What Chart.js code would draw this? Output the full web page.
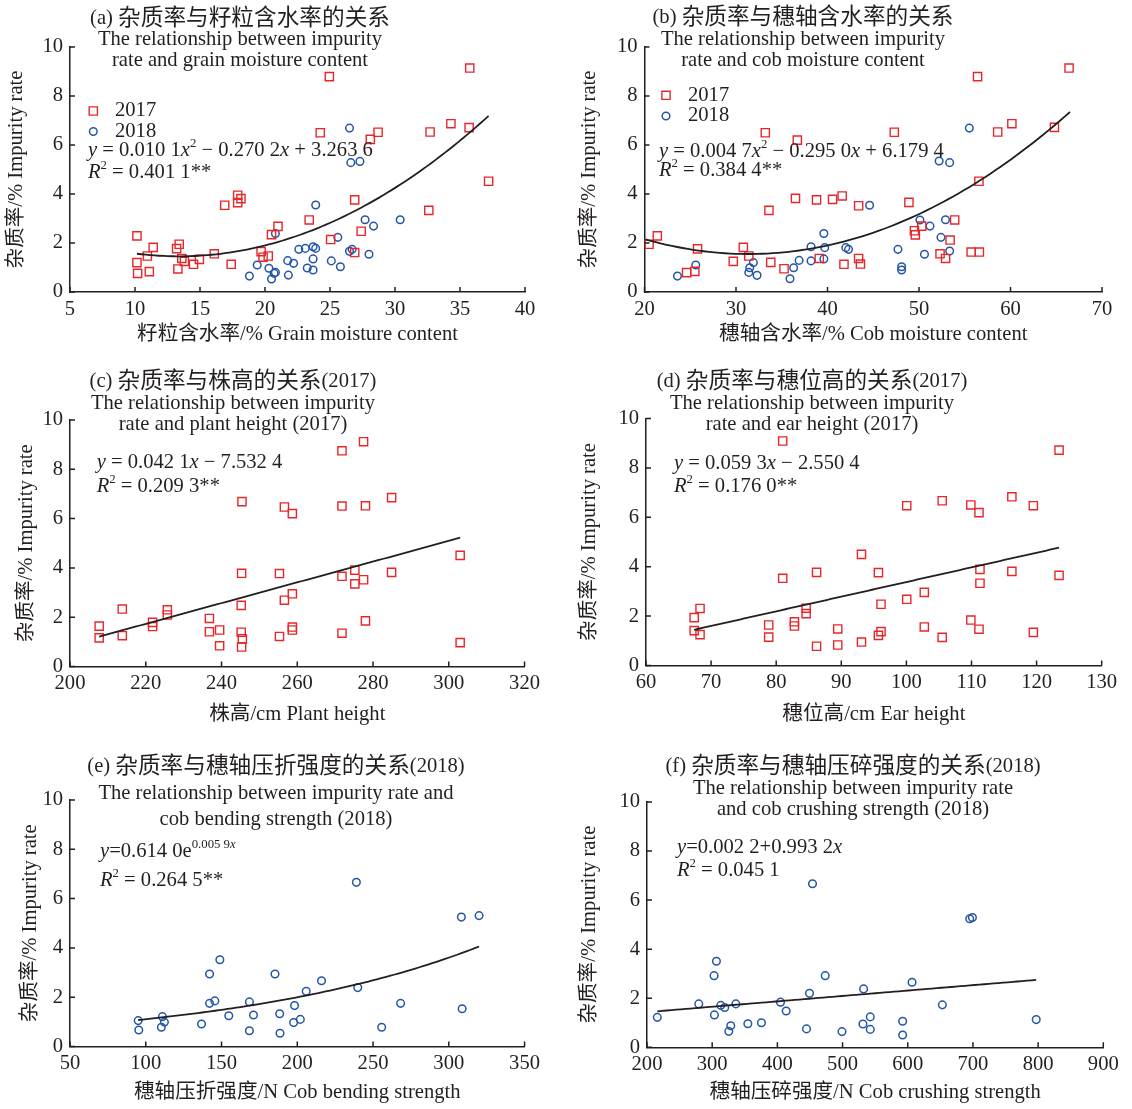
<!DOCTYPE html>
<html><head><meta charset="utf-8">
<script src="https://cdn.jsdelivr.net/npm/chart.js@4.4.1/dist/chart.umd.min.js"></script>
<style>
html,body{margin:0;padding:0;background:#fff;}
#wrap{position:relative;width:1132px;height:1109px;overflow:hidden;background:#fff;}
#wrap canvas{position:absolute;}
</style></head><body><div id="wrap"></div>
<script>
// ---------- data ----------
const grainX2017 = [10.15,10.15,10.2,10.95,11.4,11.1,13.2,13.4,13.6,13.8,13.3,14.5,14.95,16.1,16.9,17.9,18.15,17.9,17.4,19.7,19.85,20.25,20.5,21.0,24.95,35.75,24.25,28.1,28.7,32.7,34.3,35.7,37.2,26.9,23.4,32.6,27.4,25.05,26.9];
const grainY2017 = [2.29,1.2,0.76,1.47,1.82,0.83,1.77,1.95,1.37,1.25,0.94,1.13,1.33,1.56,3.54,3.95,3.81,3.65,1.13,1.65,1.42,1.47,2.34,2.68,8.79,9.14,6.5,6.23,6.52,6.53,6.87,6.71,4.52,3.76,2.94,3.33,2.48,2.14,1.61];
const grainX2018 = [18.8,19.4,20.3,20.5,20.7,20.8,20.8,21.75,21.8,22.2,22.6,26.5,26.6,27.3,23.9,27.7,28.35,30.4,25.6,23.1,23.7,23.9,26.5,26.7,28.0,23.7,23.25,23.7,25.1,25.8];
const grainY2018 = [0.65,1.1,0.97,0.53,0.76,0.8,2.39,1.28,0.69,1.17,1.74,6.69,5.28,5.33,3.55,2.95,2.69,2.95,2.23,1.78,1.85,1.78,1.66,1.74,1.54,1.35,0.98,0.9,1.27,1.03];

const cobX2017 = [20.5,21.4,24.6,25.5,25.8,29.7,30.8,31.4,33.2,33.6,33.8,35.25,36.7,36.5,38.8,39.1,40.55,41.6,41.8,43.4,43.4,43.6,56.4,66.4,47.3,58.6,60.15,64.8,56.55,48.9,53.9,49.5,49.6,50.3,53.4,52.3,52.9,55.7,56.6];
const cobY2017 = [1.95,2.29,0.79,0.84,1.76,1.25,1.82,1.47,6.5,3.33,1.21,0.95,6.2,3.82,3.76,1.37,3.78,3.92,1.13,3.52,1.37,1.14,8.79,9.14,6.52,6.53,6.87,6.72,4.52,3.66,2.94,2.5,2.33,2.69,2.12,1.56,1.37,1.63,1.63];
const cobX2018 = [23.6,25.6,31.4,31.5,31.9,32.3,35.9,36.3,36.9,38.2,38.2,39.6,39.7,39.6,42.0,42.3,44.6,55.5,52.2,53.35,50.1,51.2,52.9,52.4,47.7,50.6,53.35,48.1,48.1];
const cobY2018 = [0.65,1.1,0.8,0.99,1.2,0.68,0.54,0.99,1.29,1.85,1.27,2.39,1.81,1.35,1.81,1.74,3.54,6.69,5.35,5.28,2.94,2.69,2.95,2.23,1.74,1.54,1.67,1.03,0.9];

const heightX = [207.7,207.7,213.8,213.8,221.8,221.8,225.7,225.7,236.8,236.8,239.5,239.5,245.4,245.3,245.2,245.2,245.5,245.3,256.6,258.7,255.3,256.6,258.7,258.7,258.7,255.3,271.8,277.5,271.8,278,284.9,271.8,275.2,275.2,277.5,284.9,278,271.8,303,303];
const heightY = [1.64,1.16,2.33,1.25,1.79,1.62,2.3,2.09,1.95,1.41,1.48,0.84,6.69,3.78,2.48,1.39,1.12,0.79,6.47,6.2,3.77,2.69,2.95,1.6,1.48,1.22,8.75,9.12,6.51,6.52,6.85,3.66,3.91,3.35,3.52,3.82,1.85,1.35,4.51,0.97];

const earX = [67.4,68.3,67.4,68.3,81.0,81.0,78.85,78.85,82.8,82.8,84.6,84.6,86.2,86.2,89.45,89.45,93.1,93.1,95.7,96.1,96.1,95.7,100.05,100.05,102.75,102.75,105.5,105.5,109.9,111.15,111.3,111.3,109.9,111.15,116.2,116.2,119.5,119.5,123.45,123.45];
const earY = [1.94,2.31,1.41,1.25,9.09,3.53,1.64,1.15,1.77,1.6,2.32,2.1,3.77,0.78,1.48,0.83,4.5,0.95,3.76,2.48,1.37,1.22,6.47,2.68,2.96,1.56,6.67,1.14,6.5,6.19,3.89,3.33,1.84,1.47,6.83,3.81,6.47,1.34,8.72,3.65];

const bendX = [95,95.4,111,112.3,110.3,136.8,142.1,142.1,145.6,148.9,154.8,168.4,168.4,171.1,185.3,188.4,188.6,198.2,197.6,202,205.9,216,239,239.9,255.7,268.2,308.3,320,308.8];
const bendY = [1.05,0.67,1.21,0.99,0.78,0.91,2.94,1.75,1.85,3.52,1.25,1.81,0.64,1.28,2.94,1.33,0.54,1.66,0.97,1.1,2.24,2.67,6.66,2.39,0.78,1.75,5.25,5.31,1.53];

const crushX = [215.8,279.4,302.9,306.5,303.4,313.2,319.3,328.5,325.5,336.3,354.7,375.6,404.8,413.5,444.7,449.3,453.9,473.4,499.1,532.3,531.3,542.5,542.5,592.2,592.2,606.6,653.1,695.1,699.2,797.1];
const crushY = [1.22,1.77,2.92,3.51,1.32,1.71,1.62,0.88,0.65,1.77,0.96,1.0,1.84,1.48,0.75,2.2,6.67,2.92,0.64,2.38,0.95,1.24,0.73,1.06,0.5,2.65,1.73,5.24,5.29,1.13];

// regression coefficients printed on the chart, and the x span of each fitted curve
const grainFit = [0.0101, -0.2702, 3.2636];   const grainFitSpan = [10.15, 37.2];
const cobFit   = [0.0047, -0.2950, 6.1794];   const cobFitSpan   = [20.1, 66.5];
const heightFit = [0.0421, -7.5324];          const heightFitSpan = [207.7, 303];
const earFit    = [0.0593, -2.5504];          const earFitSpan    = [67.4, 123.45];
const bendFit   = [0.6140, 0.0059];           const bendFitSpan   = [95, 320];
const crushFit  = [0.0022, 0.9932];           const crushFitSpan  = [215.8, 797.1];

// tick values
const grainTicks  = [5,10,15,20,25,30,35,40];
const cobTicks    = [20,30,40,50,60,70];
const heightTicks = [200,220,240,260,280,300,320];
const earTicks    = [60,70,80,90,100,110,120,130];
const bendTicks   = [50,100,150,200,250,300,350];
const crushTicks  = [200,300,400,500,600,700,800,900];
const rateTicks   = [0,2,4,6,8,10];

// ---------- helpers ----------
const SERIF = "'Liberation Serif','Noto Sans CJK SC',serif";
const INK = '#231f20';
const RED = '#e8262a';
const BLUE = '#2356a8';
const BASE = 20.6;

const pts = (xs, ys) => xs.map((x, i) => ({x, y: ys[i]}));
const quad = c => x => c[0]*x*x + c[1]*x + c[2];
const lin = c => x => c[0]*x + c[1];
const expo = c => x => c[0]*Math.exp(c[1]*x);
function curve(fn, span){ const out=[]; const n=80; for(let k=0;k<=n;k++){ const x=span[0]+(span[1]-span[0])*k/n; out.push({x, y: fn(x)}); } return out; }

function segFont(s){ const size = BASE*(s.c?1.1:1)*(s.sup?0.62:1); return (s.i?'italic ':'') + size.toFixed(2) + 'px ' + SERIF; }
function drawRich(ctx, segs, x, y, align){
  ctx.textBaseline='middle'; ctx.textAlign='left';
  let w=0; for(const s of segs){ ctx.font=segFont(s); w+=ctx.measureText(s.t).width; }
  let cx = align==='center' ? x - w/2 : x;
  for(const s of segs){ ctx.font=segFont(s); const dy = s.sup ? -BASE*0.34 : 0; ctx.fillText(s.t, cx, y+dy); cx += ctx.measureText(s.t).width; }
}
const T = (t, o={}) => Object.assign({t}, o);

const RATE_TITLE = '杂质率/% Impurity rate';

const panels = [
 { canvas:{left:0, top:0, w:545, h:355}, area:{l:70, t:47, r:525, b:292},
   xTicks:grainTicks, xTitle:'籽粒含水率/% Grain moisture content', yTitleX:17, xTitleY:335,
   series:[{x:grainX2017,y:grainY2017,style:'rect',label:'2017'},{x:grainX2018,y:grainY2018,style:'circle',label:'2018'}],
   fit:curve(quad(grainFit), grainFitSpan),
   titles:{cx:240, lines:[{y:19, segs:[T('(a) '),T('杂质率与籽粒含水率的关系',{c:1})]},{y:40, segs:[T('The relationship between impurity')]},{y:61, segs:[T('rate and grain moisture content')]}]},
   eq:{x:88, lines:[{y:151, segs:[T('y',{i:1}),T(' = 0.010 1'),T('x',{i:1}),T('2',{sup:1}),T(' − 0.270 2'),T('x',{i:1}),T(' + 3.263 6')]},{y:173, segs:[T('R',{i:1}),T('2',{sup:1}),T(' = 0.401 1**')]}]},
   legend:{mx:93.3, tx:115, items:[{y:111,style:'rect',label:'2017'},{y:131.5,style:'circle',label:'2018'}]}
 },
 { canvas:{left:560, top:0, w:572, h:355}, area:{l:644.5, t:47, r:1102, b:292},
   xTicks:cobTicks, xTitle:'穗轴含水率/% Cob moisture content', yTitleX:590, xTitleY:335,
   series:[{x:cobX2017,y:cobY2017,style:'rect',label:'2017'},{x:cobX2018,y:cobY2018,style:'circle',label:'2018'}],
   fit:curve(quad(cobFit), cobFitSpan),
   titles:{cx:803, lines:[{y:18, segs:[T('(b) '),T('杂质率与穗轴含水率的关系',{c:1})]},{y:39.5, segs:[T('The relationship between impurity')]},{y:60.5, segs:[T('rate and cob moisture content')]}]},
   eq:{x:659, lines:[{y:152, segs:[T('y',{i:1}),T(' = 0.004 7'),T('x',{i:1}),T('2',{sup:1}),T(' − 0.295 0'),T('x',{i:1}),T(' + 6.179 4')]},{y:171, segs:[T('R',{i:1}),T('2',{sup:1}),T(' = 0.384 4**')]}]},
   legend:{mx:666, tx:688, items:[{y:95.3,style:'rect',label:'2017'},{y:116,style:'circle',label:'2018'}]}
 },
 { canvas:{left:0, top:365, w:545, h:365}, area:{l:70, t:420, r:526, b:666.5},
   xTicks:heightTicks, xTitle:'株高/cm Plant height', yTitleX:27, xTitleY:715,
   series:[{x:heightX,y:heightY,style:'rect',label:'2017'}],
   fit:curve(lin(heightFit), heightFitSpan),
   titles:{cx:233, lines:[{y:382, segs:[T('(c) '),T('杂质率与株高的关系',{c:1}),T('(2017)')]},{y:404, segs:[T('The relationship between impurity')]},{y:425, segs:[T('rate and plant height (2017)')]}]},
   eq:{x:96.7, lines:[{y:463, segs:[T('y',{i:1}),T(' = 0.042 1'),T('x',{i:1}),T(' − 7.532 4')]},{y:487, segs:[T('R',{i:1}),T('2',{sup:1}),T(' = 0.209 3**')]}]}
 },
 { canvas:{left:560, top:365, w:572, h:365}, area:{l:646, t:418.5, r:1101.7, b:665.5},
   xTicks:earTicks, xTitle:'穗位高/cm Ear height', yTitleX:590, xTitleY:715,
   series:[{x:earX,y:earY,style:'rect',label:'2017'}],
   fit:curve(lin(earFit), earFitSpan),
   titles:{cx:812, lines:[{y:382, segs:[T('(d) '),T('杂质率与穗位高的关系',{c:1}),T('(2017)')]},{y:404, segs:[T('The relationship between impurity')]},{y:425, segs:[T('rate and ear height (2017)')]}]},
   eq:{x:674, lines:[{y:464, segs:[T('y',{i:1}),T(' = 0.059 3'),T('x',{i:1}),T(' − 2.550 4')]},{y:487, segs:[T('R',{i:1}),T('2',{sup:1}),T(' = 0.176 0**')]}]}
 },
 { canvas:{left:0, top:745, w:545, h:364}, area:{l:70, t:800, r:526, b:1046.5},
   xTicks:bendTicks, xTitle:'穗轴压折强度/N Cob bending strength', yTitleX:31, xTitleY:1093,
   series:[{x:bendX,y:bendY,style:'circle',label:'2018'}],
   fit:curve(expo(bendFit), bendFitSpan),
   titles:{cx:276, lines:[{y:767, segs:[T('(e) '),T('杂质率与穗轴压折强度的关系',{c:1}),T('(2018)')]},{y:794, segs:[T('The relationship between impurity rate and')]},{y:820, segs:[T('cob bending strength (2018)')]}]},
   eq:{x:100, lines:[{y:852, segs:[T('y',{i:1}),T('=0.614 0e'),T('0.005 9',{sup:1}),T('x',{sup:1,i:1})]},{y:881, segs:[T('R',{i:1}),T('2',{sup:1}),T(' = 0.264 5**')]}]}
 },
 { canvas:{left:560, top:745, w:572, h:364}, area:{l:647, t:802, r:1103.3, b:1047.3},
   xTicks:crushTicks, xTitle:'穗轴压碎强度/N Cob crushing strength', yTitleX:590, xTitleY:1093,
   series:[{x:crushX,y:crushY,style:'circle',label:'2018'}],
   fit:curve(lin(crushFit), crushFitSpan),
   titles:{cx:853, lines:[{y:767, segs:[T('(f) '),T('杂质率与穗轴压碎强度的关系',{c:1}),T('(2018)')]},{y:789, segs:[T('The relationship between impurity rate')]},{y:810, segs:[T('and cob crushing strength (2018)')]}]},
   eq:{x:677, lines:[{y:848, segs:[T('y',{i:1}),T('=0.002 2+0.993 2'),T('x',{i:1})]},{y:871, segs:[T('R',{i:1}),T('2',{sup:1}),T(' = 0.045 1')]}]}
 }
];

const POINT = {
  rect:  {pointStyle:'rect',   radius:5.8, borderWidth:1.4, color:RED},
  circle:{pointStyle:'circle', radius:3.8, borderWidth:1.5, color:BLUE}
};

const wrap = document.getElementById('wrap');
function makeChart(p){
  const cv = document.createElement('canvas');
  const {left:ox, top:oy, w, h} = p.canvas;
  cv.width = w; cv.height = h;
  cv.style.left = ox+'px'; cv.style.top = oy+'px'; cv.style.width = w+'px'; cv.style.height = h+'px';
  wrap.appendChild(cv);
  const lh = BASE*1.2/2;
  const datasets = [{
    label:'fit', data:p.fit, showLine:true, pointRadius:0, borderColor:INK, borderWidth:1.8, fill:false, order:0
  }].concat(p.series.map(s => {
    const st = POINT[s.style];
    return { label:s.label, data:pts(s.x, s.y), showLine:false, pointStyle:st.pointStyle, pointRadius:st.radius,
      pointBorderWidth:st.borderWidth, pointBorderColor:st.color, pointBackgroundColor:'rgba(0,0,0,0)',
      borderColor:st.color, backgroundColor:'rgba(0,0,0,0)', order:1 };
  }));
  const decor = {
    id:'decor',
    afterDraw(chart){
      const ctx = chart.ctx; const {left, bottom} = chart.chartArea;
      const xs = chart.scales.x, ys = chart.scales.y;
      ctx.save();
      ctx.strokeStyle = INK; ctx.lineWidth = 1.5; ctx.beginPath();
      for(const v of p.xTicks){ const px = xs.getPixelForValue(v); ctx.moveTo(px, bottom); ctx.lineTo(px, bottom-5); }
      for(const v of rateTicks){ const py = ys.getPixelForValue(v); ctx.moveTo(left, py); ctx.lineTo(left+5, py); }
      ctx.stroke();
      ctx.fillStyle = INK;
      for(const ln of p.titles.lines) drawRich(ctx, ln.segs, p.titles.cx-ox, ln.y-oy, 'center');
      for(const ln of p.eq.lines) drawRich(ctx, ln.segs, p.eq.x-ox, ln.y-oy, 'left');
      if(p.legend){
        for(const it of p.legend.items){
          const st = POINT[it.style];
          ctx.strokeStyle = st.color; ctx.fillStyle = 'rgba(0,0,0,0)'; ctx.lineWidth = st.borderWidth;
          Chart.helpers.drawPoint(ctx, {pointStyle:st.pointStyle, radius:st.radius, borderWidth:st.borderWidth}, p.legend.mx-ox, it.y-oy);
          ctx.fillStyle = INK;
          drawRich(ctx, [T(it.label)], p.legend.tx-ox, it.y-oy, 'left');
        }
      }
      ctx.restore();
    }
  };
  new Chart(cv, {
    type:'scatter',
    data:{datasets},
    options:{
      responsive:false, animation:false, devicePixelRatio:1,
      layout:{padding:{left:0, top:p.area.t-oy, right:ox+w-p.area.r, bottom:0}},
      plugins:{legend:{display:false}, tooltip:{enabled:false}, title:{display:false}},
      scales:{
        x:{ type:'linear', min:p.xTicks[0], max:p.xTicks[p.xTicks.length-1],
            afterBuildTicks:s=>{ s.ticks = p.xTicks.map(v=>({value:v})); },
            afterFit:s=>{ s.height = oy+h-p.area.b; },
            grid:{display:false, drawTicks:false}, border:{display:true, color:INK, width:1.5},
            ticks:{color:INK, font:{family:SERIF, size:BASE}, padding:5, maxRotation:0, autoSkip:false},
            title:{display:true, text:p.xTitle, color:INK, font:{family:SERIF, size:BASE}, padding:{top:0, bottom:oy+h-p.xTitleY-lh}} },
        y:{ type:'linear', min:0, max:10,
            afterBuildTicks:s=>{ s.ticks = rateTicks.map(v=>({value:v})); },
            afterFit:s=>{ s.width = p.area.l-ox; },
            grid:{display:false, drawTicks:false}, border:{display:true, color:INK, width:1.5},
            ticks:{color:INK, font:{family:SERIF, size:BASE}, padding:7, autoSkip:false},
            title:{display:true, text:RATE_TITLE, color:INK, font:{family:SERIF, size:BASE}, padding:{top:p.yTitleX-ox-lh, bottom:0}} }
      }
    },
    plugins:[decor]
  });
}
panels.forEach(makeChart);
</script></body></html>
